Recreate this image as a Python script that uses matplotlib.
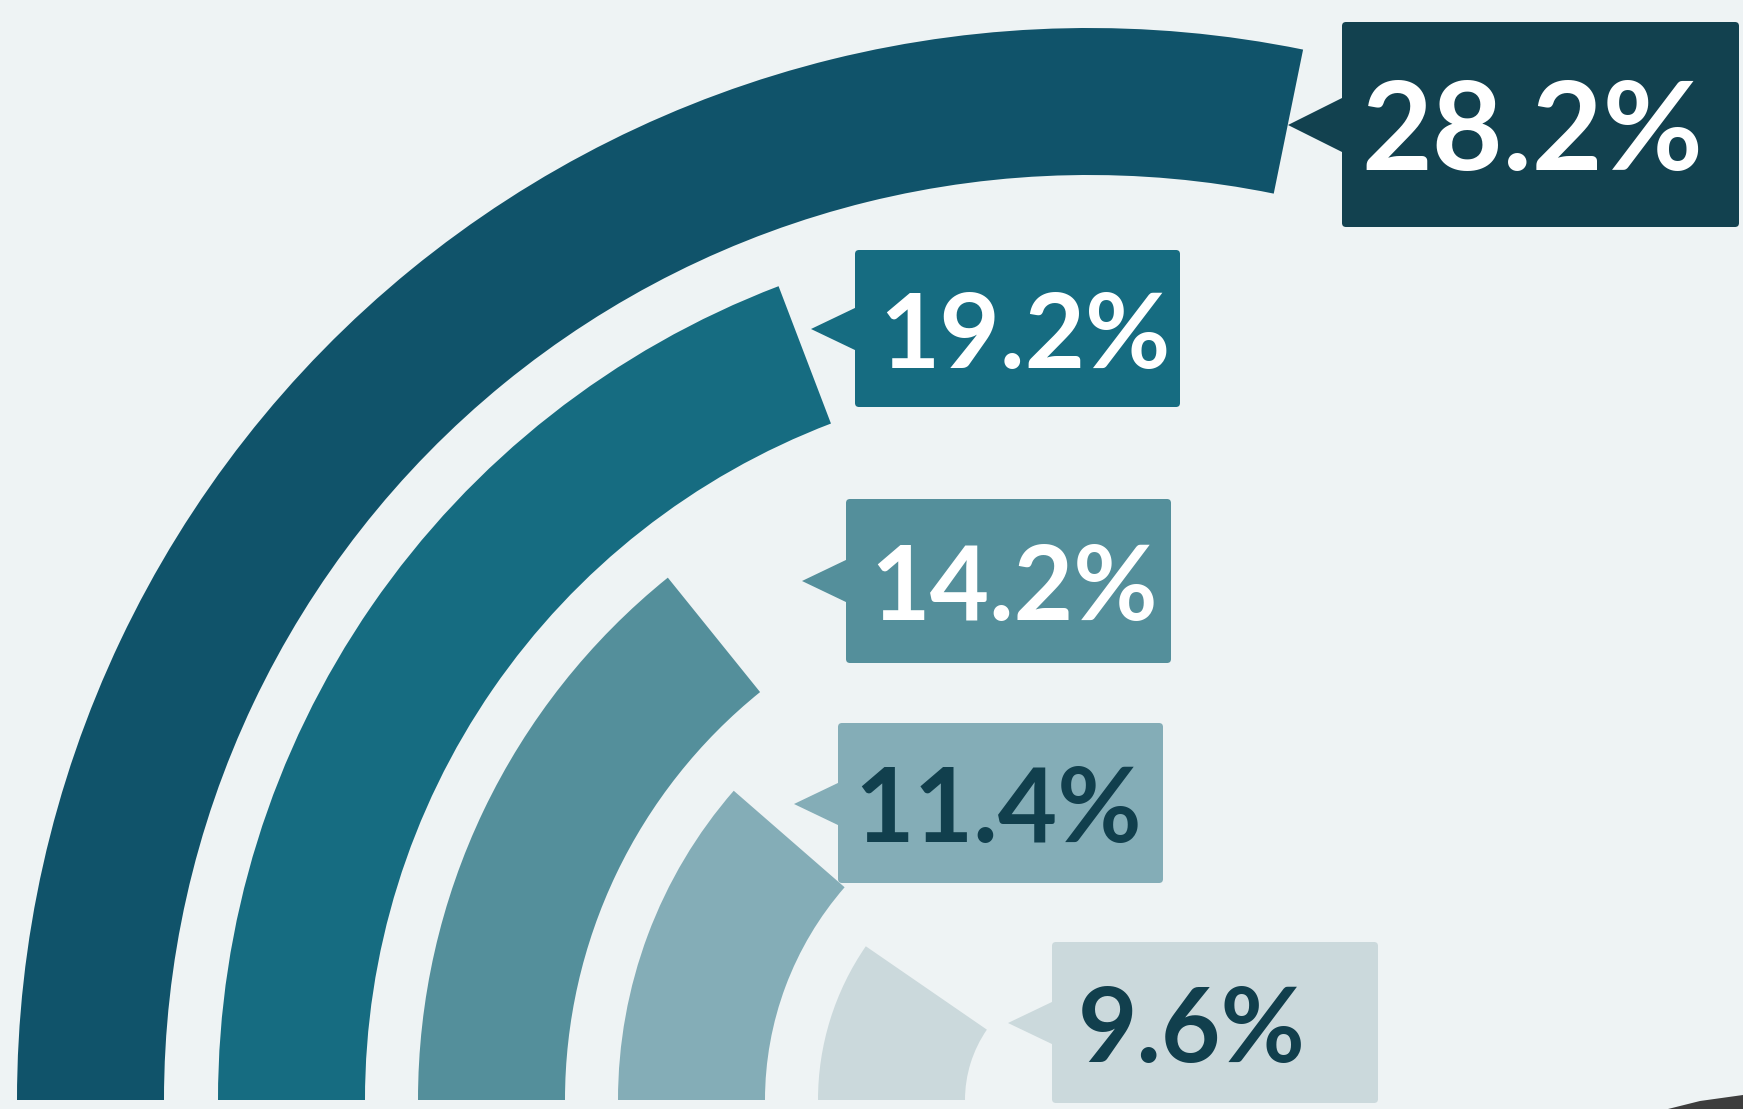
import matplotlib.pyplot as plt
from matplotlib.patches import Wedge, FancyBboxPatch, Polygon

# data
values = [28.2, 19.2, 14.2, 11.4, 9.6]
labels = ['28.2%', '19.2%', '14.2%', '11.4%', '9.6%']
arc_colors = ['#10536a', '#166c81', '#548f9b', '#84adb7', '#cbd9dc']
box_colors = ['#12414f', '#166c81', '#548f9b', '#84adb7', '#cbd9dc']
text_colors = ['white', 'white', 'white', '#113f4d', '#113f4d']

W, H = 1743, 1109
bg = '#eef3f4'

# layout (pixels, measured from the top-left)
cx, cy = 1089, 1100
r_outer = [1072, 871, 671, 471, 271]
band = 147
# box: left, right, top, bottom, tip x, tip y, pointer half-height, text x, baseline, font size
boxes = [
    (1342, 1739, 22, 227, 1288, 125, 28, 1361, 170, 88),
    (855, 1180, 250, 407, 811, 329, 22, 879, 368, 75),
    (846, 1171, 499, 663, 802, 581, 22, 870, 620, 74),
    (838, 1163, 723, 883, 794, 804, 22, 854, 842, 74),
    (1052, 1378, 942, 1103, 1008, 1023, 22, 1078, 1062, 74),
]

fig = plt.figure(figsize=(W / 100, H / 100), dpi=100)
fig.patch.set_facecolor(bg)
ax = fig.add_axes([0, 0, 1, 1])
ax.set_xlim(0, W)
ax.set_ylim(0, H)
ax.set_facecolor(bg)
ax.axis('off')

for v, r, col in zip(values, r_outer, arc_colors):
    ax.add_patch(Wedge((cx, H - cy), r, 180 - v * 3.6, 180, width=band,
                       facecolor=col, edgecolor='none'))

for (l, rgt, t, b, tx, ty, half, xt, base, fs), lab, bc, tc in zip(boxes, labels, box_colors, text_colors):
    ax.add_patch(FancyBboxPatch((l, H - b), rgt - l, b - t,
                                boxstyle='round,pad=0,rounding_size=4',
                                facecolor=bc, edgecolor='none'))
    ax.add_patch(Polygon([(tx, H - ty), (l + 2, H - ty + half), (l + 2, H - ty - half)],
                         closed=True, facecolor=bc, edgecolor='none'))
    ax.text(xt, H - base, lab, fontsize=fs, fontfamily='Lato', fontweight='bold',
            color=tc, ha='left', va='baseline')

# page curl in the corner
ax.add_patch(Polygon([(1668, 0), (1743, 0), (1743, 14), (1700, 8)],
                     closed=True, facecolor='#3d3d3d', edgecolor='none'))

fig.savefig('out.png', dpi=100, facecolor=bg)
